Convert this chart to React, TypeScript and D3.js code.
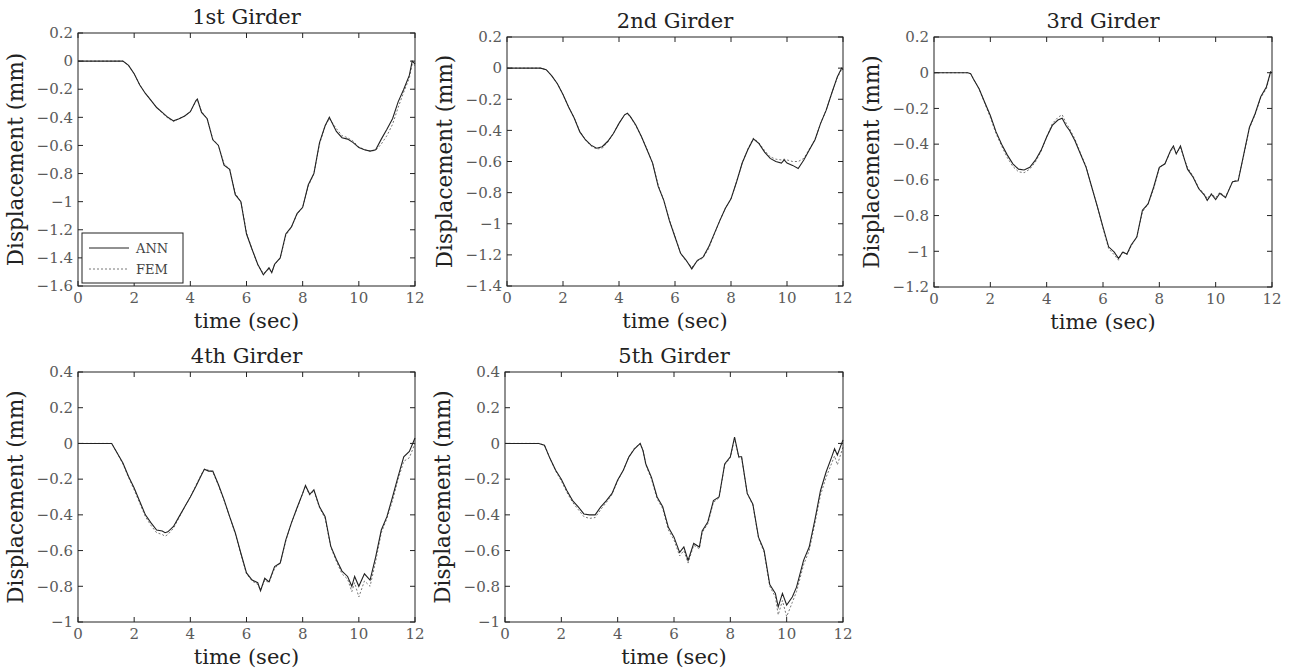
import React, { useRef, useEffect } from "react";
import * as d3 from "d3";

// time samples (sec) and displacement (mm)
const g1Time = [0, 0.8, 1.6, 1.8, 2.0, 2.2, 2.4, 2.6, 2.8, 3.0, 3.2, 3.4, 3.6, 3.8, 4.0, 4.2, 4.25, 4.4, 4.6, 4.8, 5.0, 5.2, 5.4, 5.6, 5.8, 6.0, 6.2, 6.4, 6.6, 6.8, 6.9, 7.0, 7.2, 7.4, 7.6, 7.8, 8.0, 8.2, 8.4, 8.6, 8.8, 8.95, 9.2, 9.4, 9.6, 9.8, 10.0, 10.2, 10.4, 10.6, 10.8, 11.0, 11.2, 11.4, 11.6, 11.8, 11.9, 12.0];
const g1Ann = [0, 0, 0, -0.03, -0.09, -0.17, -0.23, -0.28, -0.33, -0.365, -0.4, -0.425, -0.41, -0.39, -0.36, -0.28, -0.27, -0.365, -0.41, -0.56, -0.6, -0.74, -0.77, -0.95, -1.0, -1.23, -1.34, -1.445, -1.52, -1.47, -1.505, -1.445, -1.4, -1.23, -1.18, -1.085, -1.04, -0.88, -0.8, -0.58, -0.46, -0.4, -0.5, -0.545, -0.555, -0.58, -0.615, -0.63, -0.64, -0.63, -0.555, -0.485, -0.41, -0.29, -0.2, -0.1, 0.0, -0.02];
const g1Fem = [0, 0, 0, -0.03, -0.09, -0.17, -0.23, -0.28, -0.33, -0.37, -0.405, -0.43, -0.41, -0.39, -0.36, -0.285, -0.275, -0.36, -0.41, -0.555, -0.6, -0.73, -0.77, -0.94, -1.0, -1.22, -1.34, -1.45, -1.51, -1.48, -1.5, -1.45, -1.4, -1.24, -1.18, -1.09, -1.04, -0.89, -0.8, -0.59, -0.46, -0.41, -0.48, -0.53, -0.545, -0.57, -0.61, -0.63, -0.64, -0.635, -0.59, -0.53, -0.45, -0.33, -0.22, -0.12, -0.02, -0.03];

const g2Time = [0, 1.2, 1.4, 1.6, 1.8, 2.0, 2.2, 2.4, 2.6, 2.8, 3.0, 3.2, 3.4, 3.6, 3.8, 4.0, 4.2, 4.3, 4.4, 4.6, 4.8, 5.0, 5.2, 5.4, 5.6, 5.8, 6.0, 6.2, 6.4, 6.6, 6.8, 7.0, 7.2, 7.4, 7.6, 7.8, 8.0, 8.2, 8.4, 8.6, 8.8, 9.0, 9.2, 9.4, 9.6, 9.8, 9.9, 10.0, 10.2, 10.4, 10.6, 10.8, 11.0, 11.2, 11.4, 11.6, 11.8, 11.95, 12.0];
const g2Ann = [0, 0, -0.01, -0.05, -0.1, -0.17, -0.25, -0.32, -0.41, -0.46, -0.495, -0.515, -0.505, -0.47, -0.42, -0.355, -0.3, -0.29, -0.31, -0.365, -0.44, -0.525, -0.61, -0.76, -0.85, -0.98, -1.085, -1.19, -1.235, -1.29, -1.235, -1.215, -1.15, -1.065, -0.98, -0.9, -0.84, -0.73, -0.61, -0.525, -0.455, -0.485, -0.54, -0.58, -0.6, -0.61, -0.59, -0.61, -0.625, -0.645, -0.59, -0.525, -0.46, -0.355, -0.27, -0.16, -0.055, 0.0, -0.01];
const g2Fem = [0, 0, -0.01, -0.05, -0.1, -0.17, -0.25, -0.32, -0.405, -0.46, -0.5, -0.52, -0.515, -0.475, -0.42, -0.355, -0.3, -0.295, -0.31, -0.37, -0.44, -0.52, -0.61, -0.75, -0.85, -0.975, -1.08, -1.19, -1.24, -1.28, -1.24, -1.22, -1.16, -1.07, -0.98, -0.9, -0.84, -0.73, -0.61, -0.52, -0.45, -0.48, -0.53, -0.57, -0.585, -0.59, -0.585, -0.59, -0.6, -0.6, -0.58, -0.52, -0.46, -0.355, -0.27, -0.16, -0.06, -0.01, -0.01];

const g3Time = [0, 1.2, 1.3, 1.4, 1.6, 1.8, 2.0, 2.2, 2.4, 2.6, 2.8, 3.0, 3.2, 3.4, 3.6, 3.8, 4.0, 4.2, 4.4, 4.55, 4.7, 4.8, 5.0, 5.2, 5.4, 5.6, 5.8, 6.0, 6.2, 6.4, 6.55, 6.7, 6.85, 7.0, 7.2, 7.4, 7.6, 7.8, 8.0, 8.2, 8.4, 8.5, 8.6, 8.75, 8.9, 9.0, 9.2, 9.4, 9.6, 9.7, 9.85, 10.0, 10.15, 10.35, 10.6, 10.8, 11.0, 11.2, 11.4, 11.6, 11.8, 11.95, 12.0];
const g3Ann = [0, 0, -0.005, -0.035, -0.09, -0.165, -0.24, -0.33, -0.4, -0.46, -0.51, -0.54, -0.545, -0.53, -0.49, -0.435, -0.36, -0.295, -0.265, -0.255, -0.3, -0.32, -0.38, -0.455, -0.53, -0.64, -0.75, -0.865, -0.975, -1.005, -1.04, -1.005, -1.015, -0.965, -0.92, -0.77, -0.735, -0.64, -0.53, -0.51, -0.435, -0.41, -0.455, -0.41, -0.49, -0.54, -0.585, -0.65, -0.685, -0.715, -0.68, -0.71, -0.675, -0.7, -0.61, -0.605, -0.455, -0.305, -0.23, -0.135, -0.08, 0.005, 0.0];
const g3Fem = [0, 0, -0.005, -0.035, -0.09, -0.17, -0.25, -0.34, -0.41, -0.475, -0.525, -0.555, -0.56, -0.54, -0.5, -0.44, -0.36, -0.285, -0.25, -0.235, -0.285, -0.31, -0.37, -0.45, -0.525, -0.64, -0.75, -0.87, -0.985, -1.02, -1.05, -1.0, -1.02, -0.97, -0.92, -0.78, -0.735, -0.65, -0.53, -0.51, -0.44, -0.42, -0.45, -0.42, -0.49, -0.53, -0.58, -0.645, -0.68, -0.705, -0.675, -0.7, -0.67, -0.695, -0.61, -0.6, -0.46, -0.31, -0.235, -0.14, -0.09, 0.0, 0.0];

const g4Time = [0, 1.2, 1.4, 1.6, 1.8, 2.0, 2.2, 2.4, 2.6, 2.8, 3.0, 3.1, 3.2, 3.4, 3.6, 3.8, 4.0, 4.2, 4.4, 4.5, 4.65, 4.8, 5.0, 5.2, 5.4, 5.6, 5.8, 6.0, 6.2, 6.4, 6.5, 6.65, 6.8, 7.0, 7.2, 7.4, 7.6, 7.8, 8.0, 8.1, 8.25, 8.4, 8.6, 8.8, 9.0, 9.2, 9.4, 9.6, 9.75, 9.85, 10.0, 10.2, 10.4, 10.6, 10.8, 11.0, 11.2, 11.4, 11.6, 11.8, 12.0];
const g4Ann = [0, 0, -0.055, -0.11, -0.185, -0.25, -0.325, -0.4, -0.445, -0.485, -0.49, -0.5, -0.495, -0.465, -0.41, -0.355, -0.3, -0.24, -0.175, -0.145, -0.155, -0.155, -0.23, -0.315, -0.41, -0.5, -0.615, -0.725, -0.765, -0.78, -0.825, -0.755, -0.775, -0.69, -0.67, -0.54, -0.445, -0.36, -0.28, -0.235, -0.285, -0.26, -0.355, -0.41, -0.575, -0.65, -0.715, -0.745, -0.8, -0.745, -0.8, -0.73, -0.765, -0.635, -0.485, -0.41, -0.3, -0.185, -0.075, -0.045, 0.03];
const g4Fem = [0, 0, -0.055, -0.115, -0.19, -0.26, -0.335, -0.41, -0.46, -0.5, -0.51, -0.52, -0.51, -0.475, -0.415, -0.355, -0.3, -0.235, -0.17, -0.145, -0.15, -0.16, -0.235, -0.32, -0.41, -0.505, -0.62, -0.73, -0.77, -0.79, -0.82, -0.765, -0.78, -0.7, -0.67, -0.545, -0.445, -0.365, -0.28, -0.24, -0.29, -0.265, -0.36, -0.42, -0.58, -0.66, -0.73, -0.76, -0.83, -0.78, -0.86, -0.77, -0.8, -0.66, -0.5, -0.42, -0.32, -0.2, -0.1, -0.08, 0.0];

const g5Time = [0, 1.2, 1.4, 1.6, 1.8, 2.0, 2.2, 2.4, 2.6, 2.8, 3.0, 3.2, 3.4, 3.6, 3.8, 4.0, 4.2, 4.4, 4.6, 4.8, 4.9, 5.0, 5.2, 5.4, 5.6, 5.8, 6.0, 6.2, 6.35, 6.5, 6.7, 6.9, 7.0, 7.2, 7.4, 7.6, 7.8, 8.0, 8.15, 8.3, 8.4, 8.6, 8.8, 9.0, 9.2, 9.4, 9.6, 9.7, 9.85, 10.0, 10.2, 10.35, 10.6, 10.8, 11.0, 11.2, 11.4, 11.6, 11.7, 11.8, 12.0];
const g5Ann = [0, 0, -0.01, -0.085, -0.15, -0.2, -0.265, -0.32, -0.355, -0.395, -0.4, -0.4, -0.355, -0.32, -0.28, -0.205, -0.15, -0.075, -0.03, 0.0, -0.04, -0.115, -0.19, -0.3, -0.355, -0.47, -0.525, -0.61, -0.58, -0.655, -0.56, -0.58, -0.49, -0.44, -0.32, -0.3, -0.115, -0.075, 0.035, -0.075, -0.075, -0.28, -0.34, -0.525, -0.6, -0.79, -0.84, -0.915, -0.84, -0.905, -0.86, -0.805, -0.655, -0.58, -0.43, -0.265, -0.16, -0.075, -0.03, -0.065, 0.02];
const g5Fem = [0, 0, -0.01, -0.085, -0.155, -0.21, -0.275, -0.33, -0.37, -0.41, -0.42, -0.415, -0.37, -0.33, -0.285, -0.21, -0.15, -0.075, -0.025, 0.0, -0.04, -0.12, -0.2, -0.31, -0.365, -0.485, -0.54, -0.63, -0.6, -0.67, -0.57, -0.59, -0.5, -0.45, -0.33, -0.305, -0.12, -0.08, 0.03, -0.08, -0.08, -0.28, -0.345, -0.53, -0.61, -0.8, -0.86, -0.96, -0.88, -0.97, -0.89, -0.83, -0.68, -0.6, -0.45, -0.29, -0.19, -0.11, -0.07, -0.12, -0.02];

const titles = ["1st Girder", "2nd Girder", "3rd Girder", "4th Girder", "5th Girder"];
const yDomains = [[-1.6, 0.2], [-1.4, 0.2], [-1.2, 0.2], [-1, 0.4], [-1, 0.4]];
const xTicks = [0, 2, 4, 6, 8, 10, 12];
const legendLabels = ["ANN", "FEM"];

// plot frames in page pixels: left, top, right, bottom
const frames = [
  [78, 33, 415, 286],
  [507, 37, 843, 286],
  [934, 37, 1272, 287],
  [78, 372, 415, 622],
  [505, 372, 843, 622],
];

const FONT = "'DejaVu Serif', serif";

const App = () => {
  const svgRef = useRef(null);

  useEffect(() => {
    const svg = d3.select(svgRef.current);
    svg.selectAll("*").remove();

    const series = [
      { t: g1Time, ann: g1Ann, fem: g1Fem },
      { t: g2Time, ann: g2Ann, fem: g2Fem },
      { t: g3Time, ann: g3Ann, fem: g3Fem },
      { t: g4Time, ann: g4Ann, fem: g4Fem },
      { t: g5Time, ann: g5Ann, fem: g5Fem },
    ];

    const fmt = (v) => {
      const s = String(+v.toFixed(1));
      return s.replace("-", "\u2212");
    };

    series.forEach((s, i) => {
      const [l, t, r, b] = frames[i];
      const [y0, y1] = yDomains[i];
      const x = d3.scaleLinear().domain([0, 12]).range([l, r]);
      const y = d3.scaleLinear().domain([y0, y1]).range([b, t]);
      const g = svg.append("g");

      const yTicks = d3.range(Math.round((y1 - y0) / 0.2) + 1).map((k) => +(y0 + k * 0.2).toFixed(1));

      // ticks, all four sides, pointing in
      xTicks.forEach((v) => {
        g.append("line").attr("x1", x(v)).attr("x2", x(v)).attr("y1", b).attr("y2", b - 5).attr("stroke", "#222");
        g.append("line").attr("x1", x(v)).attr("x2", x(v)).attr("y1", t).attr("y2", t + 5).attr("stroke", "#222");
        g.append("text").attr("x", x(v)).attr("y", b + 17).attr("text-anchor", "middle")
          .attr("font-family", FONT).attr("font-size", 15).attr("fill", "#5a5a5a").text(v);
      });
      yTicks.forEach((v) => {
        g.append("line").attr("x1", l).attr("x2", l + 5).attr("y1", y(v)).attr("y2", y(v)).attr("stroke", "#222");
        g.append("line").attr("x1", r).attr("x2", r - 5).attr("y1", y(v)).attr("y2", y(v)).attr("stroke", "#222");
        g.append("text").attr("x", l - 5).attr("y", y(v)).attr("dy", "0.35em").attr("text-anchor", "end")
          .attr("font-family", FONT).attr("font-size", 15).attr("fill", "#5a5a5a").text(fmt(v));
      });

      const pts = s.t.map((tt, k) => [tt, s.ann[k], s.fem[k]]);
      const annLine = d3.line().x((d) => x(d[0])).y((d) => y(d[1]));
      const femLine = d3.line().x((d) => x(d[0])).y((d) => y(d[2]));

      g.append("path").attr("d", femLine(pts)).attr("fill", "none")
        .attr("stroke", "#777").attr("stroke-width", 1).attr("stroke-dasharray", "2,2");
      g.append("path").attr("d", annLine(pts)).attr("fill", "none")
        .attr("stroke", "#222").attr("stroke-width", 1.1);

      g.append("rect").attr("x", l).attr("y", t).attr("width", r - l).attr("height", b - t)
        .attr("fill", "none").attr("stroke", "#222").attr("stroke-width", 1);

      g.append("text").attr("x", (l + r) / 2).attr("y", t - 9).attr("text-anchor", "middle")
        .attr("font-family", FONT).attr("font-size", 21).attr("fill", "#222").text(titles[i]);
      g.append("text").attr("x", (l + r) / 2).attr("y", b + 42).attr("text-anchor", "middle")
        .attr("font-family", FONT).attr("font-size", 21).attr("fill", "#222").text("time (sec)");
      g.append("text")
        .attr("transform", `translate(${l - 55},${(t + b) / 2}) rotate(-90)`)
        .attr("text-anchor", "middle")
        .attr("font-family", FONT).attr("font-size", 21.5).attr("fill", "#222").text("Displacement (mm)");

      if (i === 0) {
        const lg = g.append("g");
        lg.append("rect").attr("x", 82).attr("y", 233).attr("width", 101).attr("height", 50)
          .attr("fill", "#fff").attr("stroke", "#222");
        legendLabels.forEach((lab, k) => {
          const ly = 248 + k * 21;
          lg.append("line").attr("x1", 89).attr("x2", 129).attr("y1", ly).attr("y2", ly)
            .attr("stroke", k === 0 ? "#222" : "#777").attr("stroke-dasharray", k === 0 ? null : "2,2");
          lg.append("text").attr("x", 136).attr("y", ly).attr("dy", "0.35em")
            .attr("font-family", FONT).attr("font-size", 13).attr("fill", "#444").text(lab);
        });
      }
    });
  }, []);

  return (
    <svg ref={svgRef} width={1294} height={671}
      style={{ position: "absolute", left: 0, top: 0, background: "#fff" }} />
  );
};

export default App;
